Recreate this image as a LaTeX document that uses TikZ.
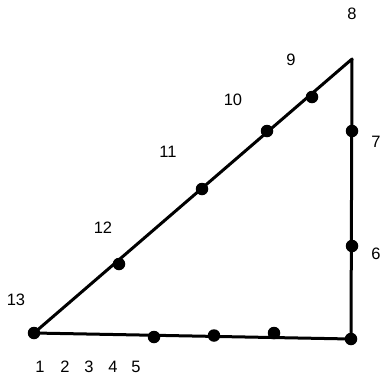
\documentclass[tikz,border=0pt]{standalone}
\usepackage{fontspec}
\setmainfont{Liberation Sans}
\begin{document}
\begin{tikzpicture}[x=1pt,y=-1pt,
  dot/.style={circle,fill=black,inner sep=0pt,minimum size=12.5pt},
  lbl/.style={font=\fontsize{16.5}{18}\selectfont,inner sep=0pt},
  edge/.style={line width=3pt,line cap=round,line join=round}]
\useasboundingbox (0,0) rectangle (383,381);
% vertices
\node[dot] (A) at (34,333) {};
\node[dot] (B) at (351,339) {};
\coordinate (C) at (352,59);
% bottom dots
\node[dot] (b1) at (154,337) {};
\node[dot] (b2) at (214,335.5) {};
\node[dot] (b3) at (274,333) {};
% hypotenuse dots
\node[dot] (h1) at (119,264) {};
\node[dot] (h2) at (202,189) {};
\node[dot] (h3) at (267,131) {};
\node[dot] (h4) at (312,97) {};
% right side dots
\node[dot] (r1) at (352,131) {};
\node[dot] (r2) at (352,246) {};
% edges
\draw[edge] (A.center) -- (B.center) -- (C) -- cycle;
% labels
\node[lbl] (l1) at (40,367) {1};
\node[lbl] (l2) at (65,367) {2};
\node[lbl] (l3) at (89,367) {3};
\node[lbl] (l4) at (113,367) {4};
\node[lbl] (l5) at (136,367) {5};
\node[lbl] (l6) at (376,254) {6};
\node[lbl] (l7) at (376,142) {7};
\node[lbl] (l8) at (352,14) {8};
\node[lbl] (l9) at (291,60) {9};
\node[lbl] (l10) at (233,100) {10};
\node[lbl] (l11) at (168,152) {11};
\node[lbl] (l12) at (103,228) {12};
\node[lbl] (l13) at (16,300) {13};
\end{tikzpicture}
\end{document}
